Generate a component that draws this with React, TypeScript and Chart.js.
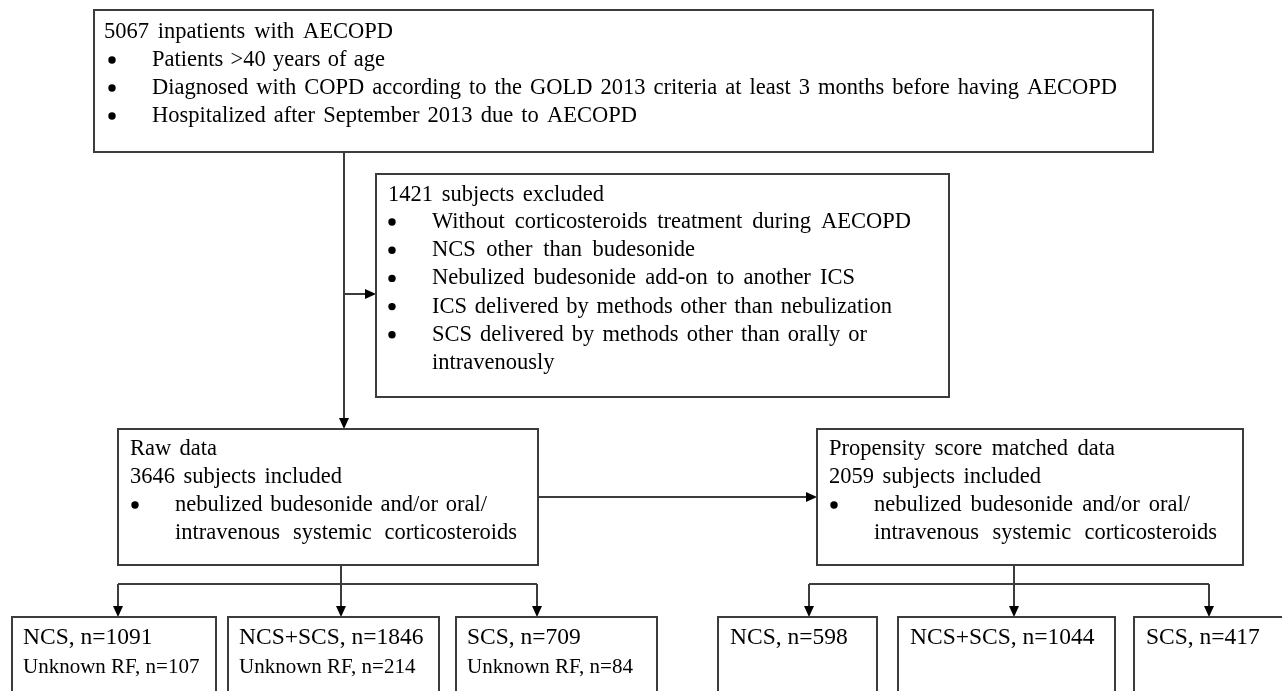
import { useEffect, useRef } from "react";
import { Chart, registerables } from "chart.js";

Chart.register(...registerables);

// ---------- DATA ----------
const totalInpatients = 5067;
const inclusionCriteria = [
  "Patients >40 years of age",
  "Diagnosed with COPD according to the GOLD 2013 criteria at least 3 months before having AECOPD",
  "Hospitalized after September 2013 due to AECOPD",
];
const excludedCount = 1421;
const exclusionReasons = [
  ["Without corticosteroids treatment during AECOPD"],
  ["NCS other than budesonide"],
  ["Nebulized budesonide add-on to another ICS"],
  ["ICS delivered by methods other than nebulization"],
  ["SCS delivered by methods other than orally or", "intravenously"],
];
const rawIncluded = 3646;
const psmIncluded = 2059;
const treatmentNote = ["nebulized budesonide and/or oral/", "intravenous systemic corticosteroids"];
const groupLabels = ["NCS", "NCS+SCS", "SCS"];
const rawCounts = [1091, 1846, 709];
const rawUnknownRF = [107, 214, 84];
const psmCounts = [598, 1044, 417];

// ---------- LAYOUT (data units of the hidden linear scales) ----------
const W = 1282;
const H = 691;
const FAMILY = '"Liberation Serif", "Times New Roman", serif';
const INK = "#000000";
const LINE = "#3c3c3c";

// right-end targets for justified lines (Word-style justified spacing)
const topEnds = [393, 385, 1117, 637];
const exclEnds = [604, 911, 695, 855, 892, 867, 0];
const midEnds = [
  [217, 342, 487, 517],
  [1115, 1041, 1190, 1217],
];
const rawBoxX = [
  [12, 216],
  [228, 439],
  [456, 657],
];
const psmBoxX = [
  [718, 877],
  [898, 1115],
  [1134, 1295],
];

type Line = { t: string; x: number; y: number; end?: number; size: number; bullet?: boolean };
type Box = { x0: number; y0: number; x1: number; y1: number; lines: Line[] };

function buildBoxes(): Box[] {
  const boxes: Box[] = [];
  const S = 22.5;
  const top: Line[] = [{ t: `${totalInpatients} inpatients with AECOPD`, x: 104, y: 32, end: topEnds[0], size: S }];
  inclusionCriteria.forEach((c, i) =>
    top.push({ t: c, x: 152, y: 60 + i * 28, end: topEnds[i + 1], size: S, bullet: true })
  );
  boxes.push({ x0: 94, y0: 10, x1: 1153, y1: 152, lines: top });

  const ex: Line[] = [{ t: `${excludedCount} subjects excluded`, x: 388, y: 195, end: exclEnds[0], size: S }];
  let yy = 222;
  let k = 1;
  exclusionReasons.forEach((r) => {
    r.forEach((seg, j) => {
      ex.push({ t: seg, x: 432, y: yy, end: exclEnds[k] || undefined, size: S, bullet: j === 0 });
      yy += 28.2;
      k++;
    });
  });
  boxes.push({ x0: 376, y0: 174, x1: 949, y1: 397, lines: ex });

  const mid = (x0: number, x1: number, title: string, n: number, ends: number[]) => {
    const l: Line[] = [
      { t: title, x: x0 + 12, y: 449, end: ends[0], size: S },
      { t: `${n} subjects included`, x: x0 + 12, y: 477, end: ends[1], size: S },
      { t: treatmentNote[0], x: x0 + 57, y: 505, end: ends[2], size: S, bullet: true },
      { t: treatmentNote[1], x: x0 + 57, y: 533, end: ends[3], size: S },
    ];
    boxes.push({ x0, y0: 429, x1, y1: 565, lines: l });
  };
  mid(118, 538, "Raw data", rawIncluded, midEnds[0]);
  mid(817, 1243, "Propensity score matched data", psmIncluded, midEnds[1]);

  rawBoxX.forEach(([a, b], i) => {
    boxes.push({
      x0: a,
      y0: 617,
      x1: b,
      y1: 705,
      lines: [
        { t: `${groupLabels[i]}, n=${rawCounts[i]}`, x: a + 11, y: 638, size: 23.5 },
        { t: `Unknown RF, n=${rawUnknownRF[i]}`, x: a + 11, y: 667, size: 21 },
      ],
    });
  });
  psmBoxX.forEach(([a, b], i) => {
    boxes.push({
      x0: a,
      y0: 617,
      x1: b,
      y1: 705,
      lines: [{ t: `${groupLabels[i]}, n=${psmCounts[i]}`, x: a + 12, y: 638, size: 23.5 }],
    });
  });
  return boxes;
}

const connectors: { pts: number[][]; arrow: boolean }[] = [
  { pts: [[344, 152], [344, 429]], arrow: true },
  { pts: [[344, 294], [376, 294]], arrow: true },
  { pts: [[538, 497], [817, 497]], arrow: true },
  { pts: [[341, 565], [341, 584]], arrow: false },
  { pts: [[118, 584], [537, 584]], arrow: false },
  { pts: [[118, 584], [118, 617]], arrow: true },
  { pts: [[341, 584], [341, 617]], arrow: true },
  { pts: [[537, 584], [537, 617]], arrow: true },
  { pts: [[1014, 565], [1014, 584]], arrow: false },
  { pts: [[809, 584], [1209, 584]], arrow: false },
  { pts: [[809, 584], [809, 617]], arrow: true },
  { pts: [[1014, 584], [1014, 617]], arrow: true },
  { pts: [[1209, 584], [1209, 617]], arrow: true },
];

function drawLine(ctx: CanvasRenderingContext2D, text: string, x: number, y: number, endX?: number) {
  const words = text.split(" ");
  if (!endX || words.length < 2) {
    ctx.fillText(text, x, y);
    return;
  }
  const widths = words.map((w) => ctx.measureText(w).width);
  const sum = widths.reduce((a, b) => a + b, 0);
  const minGap = ctx.measureText(" ").width * 0.6;
  const gap = Math.max(minGap, (endX - x - sum) / (words.length - 1));
  let cx = x;
  words.forEach((w, i) => {
    ctx.fillText(w, cx, y);
    cx += widths[i] + gap;
  });
}

const flowPlugin = {
  id: "flowchart",
  afterDraw(chart: any) {
    const ctx: CanvasRenderingContext2D = chart.ctx;
    const X = (v: number) => chart.scales.x.getPixelForValue(v);
    const Y = (v: number) => chart.scales.y.getPixelForValue(v);
    const boxes = buildBoxes();
    ctx.save();
    ctx.fillStyle = "#ffffff";
    ctx.fillRect(0, 0, chart.width, chart.height);

    ctx.strokeStyle = LINE;
    ctx.fillStyle = "#000";
    ctx.lineWidth = 2;
    connectors.forEach((c) => {
      const p = c.pts.map(([a, b]) => [X(a), Y(b)]);
      const [ex, ey] = p[p.length - 1];
      const [sx, sy] = p[p.length - 2];
      const ang = Math.atan2(ey - sy, ex - sx);
      const len = c.arrow ? 10 : 0;
      ctx.beginPath();
      ctx.moveTo(p[0][0], p[0][1]);
      for (let i = 1; i < p.length - 1; i++) ctx.lineTo(p[i][0], p[i][1]);
      ctx.lineTo(ex - Math.cos(ang) * len, ey - Math.sin(ang) * len);
      ctx.stroke();
      if (c.arrow) {
        ctx.beginPath();
        ctx.moveTo(ex, ey);
        ctx.lineTo(ex - Math.cos(ang) * 11 + Math.sin(ang) * 5, ey - Math.sin(ang) * 11 - Math.cos(ang) * 5);
        ctx.lineTo(ex - Math.cos(ang) * 11 - Math.sin(ang) * 5, ey - Math.sin(ang) * 11 + Math.cos(ang) * 5);
        ctx.closePath();
        ctx.fill();
      }
    });

    boxes.forEach((b) => {
      const x0 = X(b.x0), y0 = Y(b.y0), x1 = X(b.x1), y1 = Y(b.y1);
      ctx.fillStyle = "#ffffff";
      ctx.fillRect(x0, y0, x1 - x0, y1 - y0);
      ctx.strokeStyle = LINE;
      ctx.lineWidth = 2;
      ctx.strokeRect(x0, y0, x1 - x0, y1 - y0);
      ctx.fillStyle = INK;
      ctx.textBaseline = "middle";
      ctx.textAlign = "left";
      b.lines.forEach((l) => {
        ctx.font = `${l.size}px ${FAMILY}`;
        drawLine(ctx, l.t, X(l.x), Y(l.y), l.end ? X(l.end) : undefined);
        if (l.bullet) {
          ctx.beginPath();
          ctx.arc(X(l.x) - 40, Y(l.y), 3.7, 0, Math.PI * 2);
          ctx.fill();
        }
      });
    });
    ctx.restore();
  },
};

export default function App() {
  const ref = useRef<HTMLCanvasElement | null>(null);
  useEffect(() => {
    document.body.style.margin = "0";
    if (!ref.current) return;
    const chart = new Chart(ref.current, {
      type: "scatter",
      data: { datasets: [] },
      options: {
        animation: false,
        responsive: false,
        devicePixelRatio: 1,
        layout: { padding: 0 },
        plugins: { legend: { display: false }, tooltip: { enabled: false } },
        scales: {
          x: { type: "linear", min: 0, max: W, display: false },
          y: { type: "linear", min: 0, max: H, reverse: true, display: false },
        },
      },
      plugins: [flowPlugin],
    });
    return () => chart.destroy();
  }, []);
  return (
    <div style={{ width: W, height: H, overflow: "hidden", background: "#fff" }}>
      <canvas ref={ref} width={W} height={H} style={{ display: "block" }} />
    </div>
  );
}
